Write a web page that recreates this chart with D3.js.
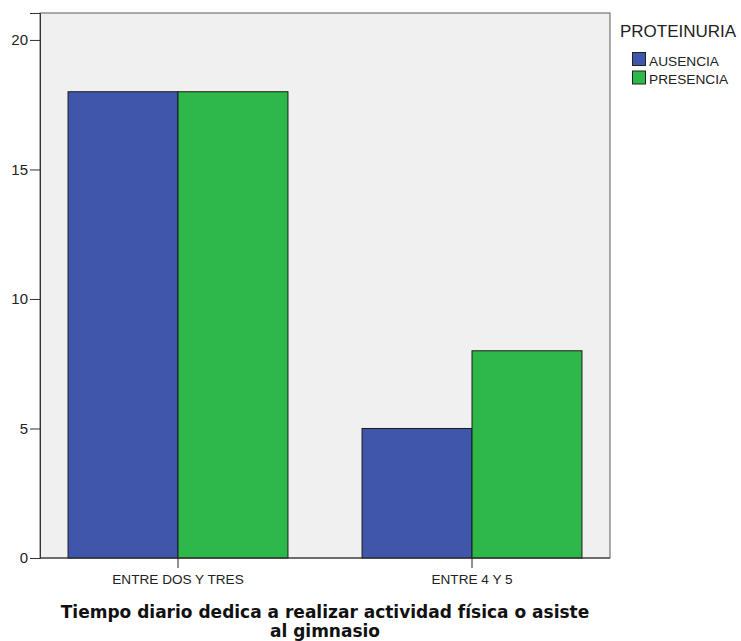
<!DOCTYPE html>
<html><head><meta charset="utf-8">
<script src="https://cdn.jsdelivr.net/npm/d3@7"></script>
<style>body{margin:0;background:#fff}svg{display:block;font-family:"Liberation Sans",Arial,sans-serif}</style>
</head><body>
<svg id="c" width="741" height="641"></svg>
<script>
const categories = ["ENTRE DOS Y TRES", "ENTRE 4 Y 5"];
const seriesNames = ["AUSENCIA", "PRESENCIA"];
const ausencia = [18, 5];
const presencia = [18, 8];
const yTicks = [0, 5, 10, 15, 20];
const colors = ["#3f56aa", "#2fb84a"];
const legendTitle = "PROTEINURIA";
const xTitle = ["Tiempo diario dedica a realizar actividad física o asiste", "al gimnasio"];

const svg = d3.select("#c");
const plot = {left: 40, right: 610, top: 13, bottom: 558};

const y = d3.scaleLinear().domain([0, 21.04]).range([plot.bottom, plot.top]);
const x = d3.scaleBand().domain(categories).range([31, 619]).paddingInner(0.252).paddingOuter(0.126);
const xs = d3.scaleBand().domain(seriesNames).range([0, x.bandwidth()]);

svg.append("rect").attr("x", plot.left).attr("y", plot.top)
  .attr("width", plot.right - plot.left).attr("height", plot.bottom - plot.top)
  .attr("fill", "#f0f0f0").attr("stroke", "#5a5a5a").attr("stroke-width", 1);

const data = categories.map((c, i) => ({cat: c, vals: [ausencia[i], presencia[i]]}));
const g = svg.append("g");
data.forEach(d => {
  d.vals.forEach((v, j) => {
    g.append("rect")
      .attr("x", x(d.cat) + xs(seriesNames[j]))
      .attr("y", y(v))
      .attr("width", xs.bandwidth())
      .attr("height", y(0) - y(v))
      .attr("fill", colors[j]).attr("stroke", "#1a1a1a").attr("stroke-width", 1);
  });
});

// y axis
const yAxis = d3.axisLeft(y).tickValues(yTicks).tickSize(10).tickPadding(2).tickFormat(d3.format("d"));
const ya = svg.append("g").attr("transform", `translate(${plot.left},0)`).call(yAxis);
ya.select(".domain").attr("stroke", "#333");
ya.selectAll(".tick line").attr("stroke", "#333");
ya.selectAll("text").attr("font-size", 15).attr("fill", "#222").attr("font-family", "Liberation Sans, Arial, sans-serif");

// x axis
const xAxis = d3.axisBottom(x).tickSize(10).tickPadding(6);
const xa = svg.append("g").attr("transform", `translate(0,${plot.bottom})`).call(xAxis);
xa.select(".domain").remove();
xa.selectAll(".tick line").attr("stroke", "#222");
xa.selectAll("text").attr("font-size", 13.6).attr("fill", "#222").attr("font-family", "Liberation Sans, Arial, sans-serif");
svg.append("line").attr("x1", plot.left).attr("x2", plot.right).attr("y1", plot.bottom).attr("y2", plot.bottom).attr("stroke", "#333");

// x title
const t = svg.append("text").attr("text-anchor", "middle").attr("font-weight", "bold")
  .attr("font-family", "DejaVu Sans, Verdana, sans-serif")
  .attr("font-size", 17).attr("fill", "#111");
t.append("tspan").attr("x", (plot.left + plot.right) / 2).attr("y", 618).text(xTitle[0]);
t.append("tspan").attr("x", (plot.left + plot.right) / 2).attr("y", 637).text(xTitle[1]);

// legend
const lg = svg.append("g");
lg.append("text").attr("x", 620).attr("y", 37).attr("font-size", 17).attr("fill", "#222").text(legendTitle);
seriesNames.forEach((s, j) => {
  lg.append("rect").attr("x", 632.5).attr("y", 52.5 + j * 18.5).attr("width", 13).attr("height", 13)
    .attr("fill", colors[j]).attr("stroke", "#222");
  lg.append("text").attr("x", 649).attr("y", 65.5 + j * 18.5).attr("font-size", 13.7).attr("fill", "#222").text(s);
});
</script>
</body></html>
